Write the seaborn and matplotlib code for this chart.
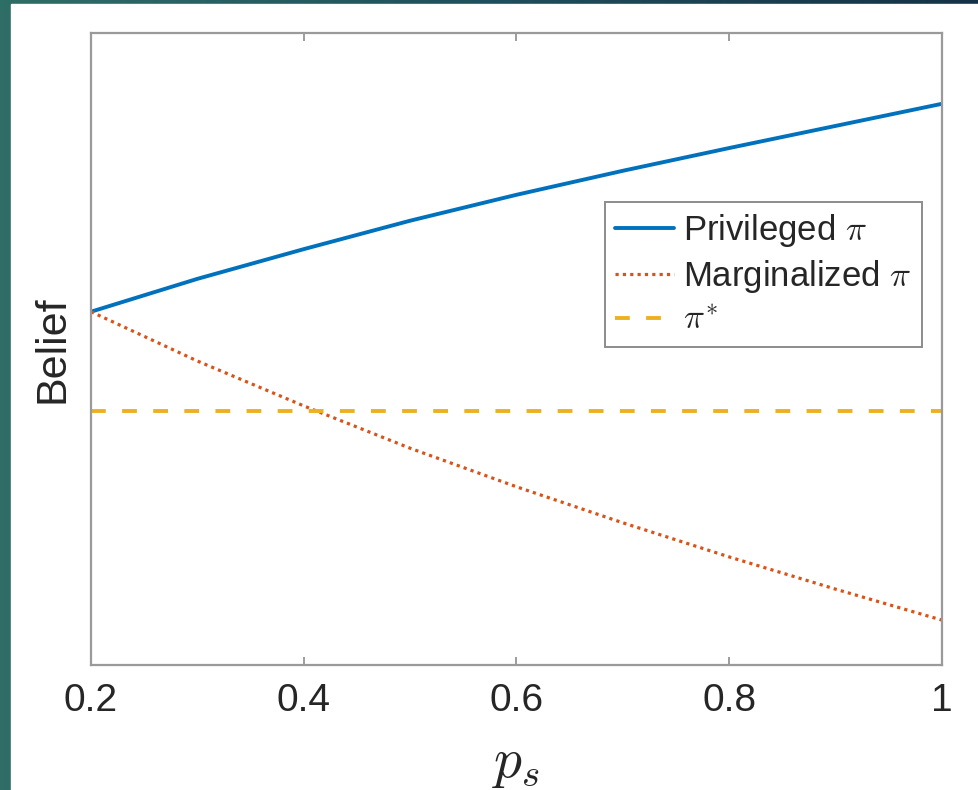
import numpy as np
import pandas as pd
import seaborn as sns
import matplotlib.pyplot as plt
from matplotlib.colors import LinearSegmentedColormap
from matplotlib.patches import Rectangle

# values (belief axis has no ticks, scaled 0..1)
p_s = [0.2, 0.3, 0.4, 0.5, 0.6, 0.7, 0.8, 0.9, 1.0]
privileged = [0.559, 0.611, 0.658, 0.703, 0.744, 0.782, 0.818, 0.853, 0.888]
marginalized = [0.559, 0.481, 0.410, 0.343, 0.282, 0.225, 0.171, 0.120, 0.071]
pi_star = 0.402
xtick_vals = [0.2, 0.4, 0.6, 0.8, 1.0]
xtick_labels = ['0.2', '0.4', '0.6', '0.8', '1']

sns.set_style('white')
plt.rcParams['font.family'] = ['Liberation Sans', 'DejaVu Sans']
plt.rcParams['mathtext.fontset'] = 'cm'

df = pd.DataFrame({'p_s': p_s, 'priv': privileged, 'marg': marginalized,
                   'star': [pi_star] * len(p_s)})

fig = plt.figure(figsize=(9.79, 7.90), dpi=100)

# slide background: teal strip on the left, gradient strip on top
bg = fig.add_axes([0, 0, 1, 1], zorder=-10)
cmap = LinearSegmentedColormap.from_list('slide', ['#2f6e67', '#1f4f5c', '#143247'])
bg.imshow(np.linspace(0, 1, 256)[None, :], aspect='auto', cmap=cmap,
          extent=[0, 1, 0, 1])
bg.add_patch(Rectangle((11 / 979, 0), 1, (790 - 4) / 790, color='white'))
bg.set_xlim(0, 1)
bg.set_ylim(0, 1)
bg.axis('off')

ax = fig.add_axes([91 / 979, 125 / 790, 851 / 979, 632 / 790])

sns.lineplot(data=df, x='p_s', y='priv', ax=ax, color='#0072BD', lw=2.8,
             label='Privileged $\\pi$')
sns.lineplot(data=df, x='p_s', y='marg', ax=ax, color='#D95319', lw=2.3,
             linestyle=(0, (1, 1.3)), label='Marginalized $\\pi$')
sns.lineplot(data=df, x='p_s', y='star', ax=ax, color='#EDB120', lw=2.8,
             linestyle=(0, (3.8, 4.2)), label='$\\pi^{*}$')

ax.set_xlim(0.2, 1.0)
ax.set_ylim(0, 1)
ax.set_xticks(xtick_vals)
ax.set_xticklabels(xtick_labels)
ax.set_yticks([])
ax.tick_params(axis='x', direction='in', top=True, bottom=True, length=6,
               width=1.2, color='#8c8c8c', labelsize=28, pad=13,
               labelcolor='#262626')
for s in ax.spines.values():
    s.set_color('#9a9a9a')
    s.set_linewidth(1.6)

ax.set_xlabel('$p_s$', fontsize=40, labelpad=14, color='#262626')
ax.set_ylabel('Belief', fontsize=31, labelpad=13, color='#262626')

leg = ax.legend(loc='upper right', bbox_to_anchor=(831 / 851, 463 / 632),
                fontsize=25, frameon=True, fancybox=False, framealpha=1,
                edgecolor='#8c8c8c', handlelength=1.7, handletextpad=0.25,
                borderpad=0.3, labelspacing=0.25, borderaxespad=0)
leg.get_frame().set_linewidth(1.4)

fig.savefig('out.png', dpi=100)
